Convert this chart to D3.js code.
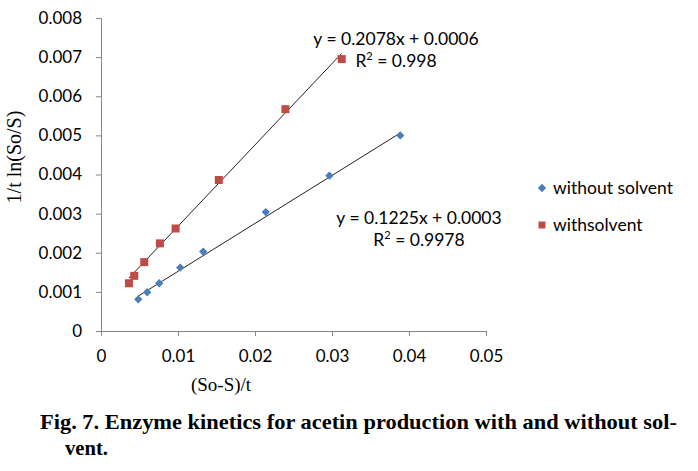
<!DOCTYPE html>
<html>
<head>
<meta charset="utf-8">
<script src="https://cdn.jsdelivr.net/npm/d3@7"></script>
<style>
  body { margin: 0; background: #fff; }
  svg { display: block; }
</style>
</head>
<body>
<svg width="698" height="471"></svg>
<script>
// Data
const withoutX = [0.00484, 0.0060, 0.00756, 0.01029, 0.01327, 0.0214, 0.02966, 0.03887];
const withoutY = [0.00081, 0.00099, 0.00122, 0.00162, 0.00203, 0.00304, 0.00397, 0.00500];
const withX = [0.00363, 0.00432, 0.00562, 0.00765, 0.00969, 0.0153, 0.02395, 0.03126];
const withY = [0.00122, 0.00141, 0.00176, 0.00224, 0.00262, 0.00386, 0.00567, 0.00695];

// trendline fits shown on the chart: [slope, intercept]
const withoutFit = [0.1225, 0.0003];
const withFit = [0.2078, 0.0006];

const xTicks = [0, 0.01, 0.02, 0.03, 0.04, 0.05];
const yTicks = [0, 0.001, 0.002, 0.003, 0.004, 0.005, 0.006, 0.007, 0.008];
const seriesNames = ["without solvent", "withsolvent"];

const svg = d3.select("svg");
const sansFont = "Lato, 'Open Sans', sans-serif";
const serifFont = "'Liberation Serif', 'Times New Roman', serif";

const x = d3.scaleLinear().domain([0, 0.05]).range([101, 486]);
const y = d3.scaleLinear().domain([0, 0.008]).range([331, 18]);

const axisColor = "#868686";

// y axis
const yAxis = svg.append("g")
  .attr("transform", "translate(101,0)")
  .call(d3.axisLeft(y).tickValues(yTicks).tickSize(5).tickPadding(14)
    .tickFormat(d => d === 0 ? "0" : d3.format(".3f")(d)));
// x axis
const xAxis = svg.append("g")
  .attr("transform", "translate(0,331)")
  .call(d3.axisBottom(x).tickValues(xTicks).tickSize(5).tickPadding(14)
    .tickFormat(d => d === 0 ? "0" : d3.format(".2f")(d)));

[yAxis, xAxis].forEach(ax => {
  ax.select(".domain").attr("stroke", axisColor);
  ax.selectAll(".tick line").attr("stroke", axisColor);
  ax.selectAll(".tick text")
    .attr("font-family", sansFont)
    .attr("font-size", "17px")
    .attr("fill", "#000");
});

// trendlines
function trend(xs, fit) {
  const x0 = d3.min(xs), x1 = d3.max(xs);
  return [[x0, fit[0] * x0 + fit[1]], [x1, fit[0] * x1 + fit[1]]];
}
const line = d3.line().x(d => x(d[0])).y(d => y(d[1]));
svg.append("path").attr("d", line(trend(withX, withFit)))
  .attr("stroke", "#222").attr("stroke-width", 1).attr("fill", "none");
svg.append("path").attr("d", line(trend(withoutX, withoutFit)))
  .attr("stroke", "#222").attr("stroke-width", 1).attr("fill", "none");

// markers
const blue = "#4a7ebb", red = "#be4b48";
const diamond = d3.symbol().type(d3.symbolDiamond2).size(44);
const square = d3.symbol().type(d3.symbolSquare).size(64);

svg.append("g").selectAll("path")
  .data(withoutX.map((v, i) => [v, withoutY[i]]))
  .enter().append("path")
  .attr("d", diamond)
  .attr("transform", d => `translate(${x(d[0])},${y(d[1])})`)
  .attr("fill", blue);

svg.append("g").selectAll("path")
  .data(withX.map((v, i) => [v, withY[i]]))
  .enter().append("path")
  .attr("d", square)
  .attr("transform", d => `translate(${x(d[0])},${y(d[1])})`)
  .attr("fill", red);

// equation labels
function eqLabel(cx, cy, fit, r2) {
  const g = svg.append("g").attr("font-family", sansFont).attr("font-size", "17.5px").attr("fill", "#000");
  g.append("text").attr("x", cx).attr("y", cy).attr("text-anchor", "middle")
    .text(`y = ${fit[0]}x + ${d3.format(".4f")(fit[1])}`);
  const t = g.append("text").attr("x", cx).attr("y", cy + 22).attr("text-anchor", "middle");
  t.append("tspan").text("R");
  t.append("tspan").attr("dy", -7).attr("font-size", "11px").text("2");
  t.append("tspan").attr("dy", 7).text(" = " + r2);
}
eqLabel(396, 45, withFit, "0.998");
eqLabel(419, 224, withoutFit, "0.9978");

// legend
const legend = svg.append("g").attr("font-family", sansFont).attr("font-size", "17.5px");
legend.append("path").attr("d", diamond).attr("transform", "translate(542,188)").attr("fill", blue);
legend.append("text").attr("x", 553).attr("y", 194).text(seriesNames[0]);
legend.append("path").attr("d", d3.symbol().type(d3.symbolSquare).size(49))
  .attr("transform", "translate(542,225)").attr("fill", red);
legend.append("text").attr("x", 553).attr("y", 231).text(seriesNames[1]);

// axis titles
svg.append("text")
  .attr("transform", "translate(21,157) rotate(-90)")
  .attr("text-anchor", "middle")
  .attr("font-family", serifFont).attr("font-size", "20px")
  .text("1/t ln(So/S)");
svg.append("text")
  .attr("x", 221).attr("y", 391)
  .attr("text-anchor", "middle")
  .attr("font-family", serifFont).attr("font-size", "19px")
  .text("(So-S)/t");

// caption
const cap = svg.append("g").attr("font-family", serifFont).attr("font-weight", "bold").attr("font-size", "21px");
cap.append("text").attr("x", 40).attr("y", 429).attr("textLength", 637).attr("lengthAdjust", "spacingAndGlyphs")
  .text("Fig. 7. Enzyme kinetics for acetin production with and without sol-");
cap.append("text").attr("x", 65).attr("y", 455).attr("textLength", 43).attr("lengthAdjust", "spacingAndGlyphs")
  .text("vent.");
</script>
</body>
</html>
